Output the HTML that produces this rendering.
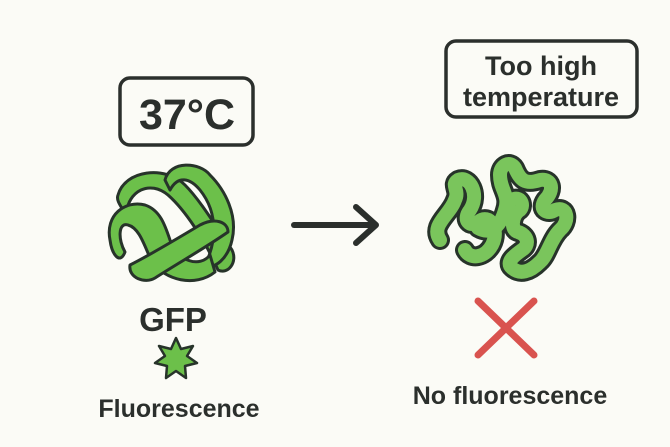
<!DOCTYPE html>
<html><head><style>
html,body{margin:0;padding:0;background:#fbfbf6;}
svg{display:block}
text{font-family:"Liberation Sans",sans-serif;fill:#2b2f2c;font-weight:bold}
</style></head><body>
<svg width="670" height="447" viewBox="0 0 670 447">
<defs>
<path id="sq" d="M440 240 C430 225 450 215 455 200 C460 190 450 185 458 180 C470 175 480 195 470 210 C462 220 470 228 478 222 C490 212 500 230 492 245 C485 258 470 260 465 250 M478 228 C490 235 500 228 505 210 C510 195 500 190 500 175 C500 165 510 160 515 168 C520 180 525 185 540 180 C552 178 555 190 545 200 C538 210 548 215 555 210 C568 205 570 222 560 230 C550 240 548 255 540 262 C530 272 520 275 512 268 C505 262 515 255 522 250 C530 245 528 235 518 232 C510 230 512 215 520 210 C525 205 520 195 512 200"/>
</defs>
<rect x="0" y="0" width="670" height="447" fill="#fbfbf6"/>
<!-- 37C box -->
<rect x="120" y="78" width="133" height="67" rx="10" fill="none" stroke="#2b2f2c" stroke-width="3.5"/>
<text x="187" y="129" font-size="43" text-anchor="middle" style="font-weight:600">37°C</text>
<!-- GFP ribbon -->
<g fill="#6cc04a" stroke="#27332a" stroke-width="3" stroke-linejoin="round">
<path d="M118 195 C125 170 165 165 185 185 C200 200 215 225 232 250 C238 262 228 275 218 270 C205 240 185 210 168 195 C150 180 128 190 126 215 C120 205 116 200 118 195Z"/>
<path d="M165 180 C170 160 200 162 210 175 C225 190 238 215 232 240 C228 258 215 270 205 265 C215 245 220 215 200 190 C190 178 178 175 170 190Z"/>
<path d="M110 240 C105 215 125 200 145 205 C160 210 165 225 170 240 C178 262 200 268 210 255 L215 272 C195 288 165 280 152 262 C145 248 140 228 128 225 C118 222 118 240 125 252 C120 265 112 255 110 240Z"/>
<path d="M130 265 C150 255 175 240 200 225 C215 217 228 222 228 232 C205 248 180 262 155 278 C145 284 128 278 130 265Z"/>
</g>
<text x="173" y="331" font-size="33" text-anchor="middle">GFP</text>
<!-- star -->
<polygon points="176,338 181,349 193,346 187,356 197,363 185,366 186,378 176,371 166,378 167,366 155,363 165,356 159,346 171,349" fill="#6cc04a" stroke="#27332a" stroke-width="2.5" stroke-linejoin="round"/>
<text x="179" y="417" font-size="25" text-anchor="middle" style="font-weight:600">Fluorescence</text>
<!-- arrow -->
<g stroke="#2b2f2c" stroke-width="6" stroke-linecap="round" fill="none" stroke-linejoin="round">
<line x1="294" y1="225" x2="375" y2="225"/>
<polyline points="356,207 376,225 356,243"/>
</g>
<!-- Too high box -->
<rect x="446" y="41" width="191" height="76" rx="10" fill="none" stroke="#2b2f2c" stroke-width="3.5"/>
<text x="541" y="75" font-size="27" text-anchor="middle">Too high</text>
<text x="541" y="106" font-size="27" text-anchor="middle">temperature</text>
<!-- squiggle -->
<g fill="none" stroke-linecap="round" stroke-linejoin="round">
<use href="#sq" stroke="#27332a" stroke-width="20"/>
<use href="#sq" stroke="#7ac55c" stroke-width="14"/>
</g>
<!-- X -->
<g stroke="#d9534f" stroke-width="7" stroke-linecap="round">
<line x1="478" y1="301" x2="534" y2="355"/>
<line x1="534" y1="301" x2="478" y2="355"/>
</g>
<text x="510" y="404" font-size="25" text-anchor="middle">No fluorescence</text>
</svg>
</body></html>
